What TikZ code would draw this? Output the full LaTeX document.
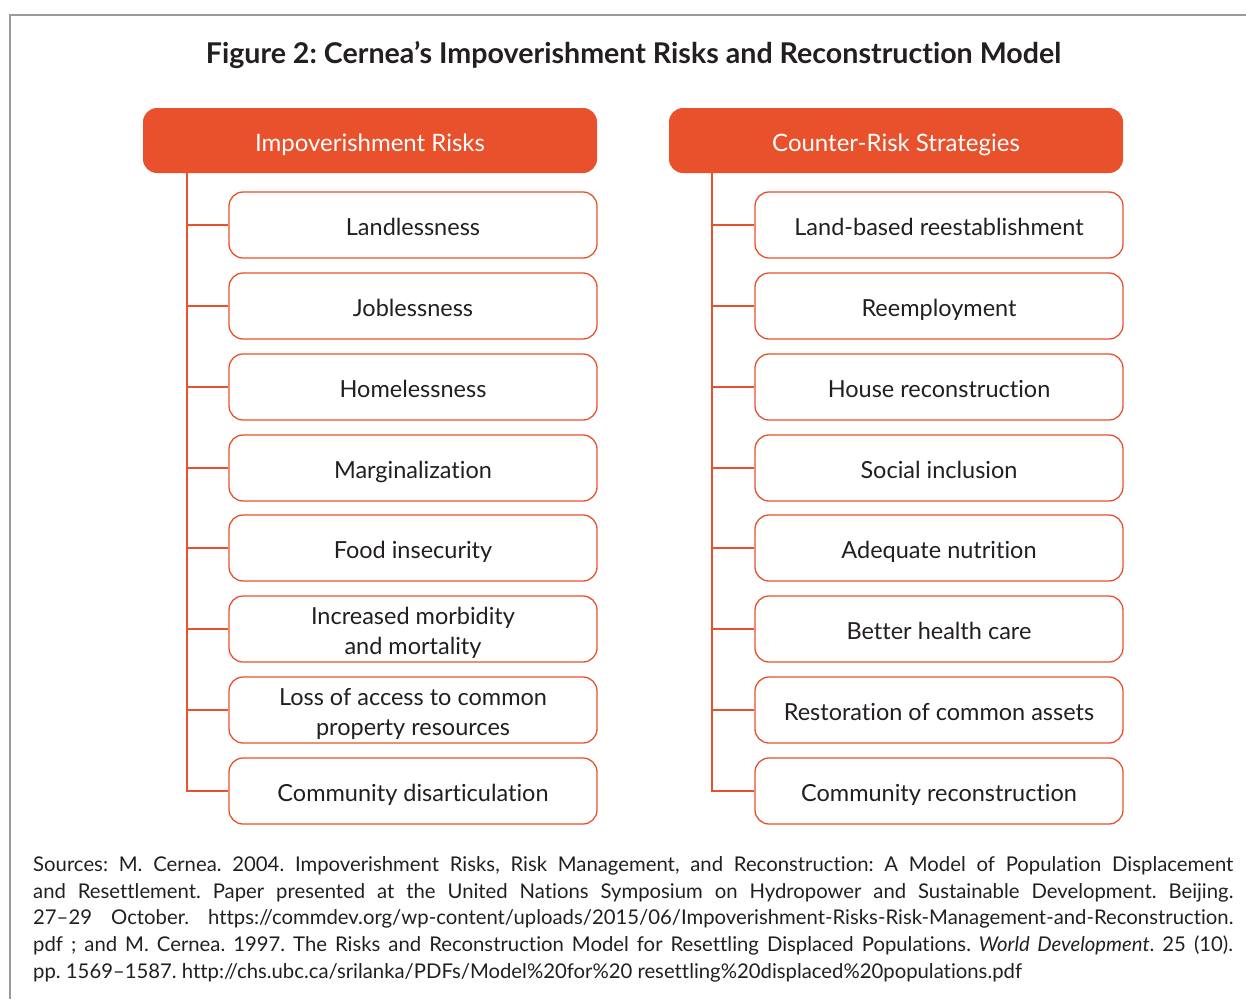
\documentclass[tikz,border=0pt]{standalone}
\usepackage{fontspec}
\setmainfont{Lato}[Ligatures=NoCommon]
\definecolor{org}{HTML}{E8512B}
\definecolor{txt}{HTML}{231F20}
\definecolor{frame}{HTML}{9A9A9A}
\frenchspacing
\begin{document}
\frenchspacing
\begin{tikzpicture}[x=1pt,y=-1pt,
  hdr/.style={fill=org, draw=none, rounded corners=14pt, minimum width=454pt, minimum height=65pt, inner sep=0pt, text=white, text height=21pt, text depth=0pt, font=\fontsize{24}{28}\selectfont},
  itembox/.style={draw=org, line width=1.3pt, fill=white, rounded corners=14pt, minimum width=368pt, minimum height=66pt, inner sep=0pt, text=txt, align=center, text height=20pt, text depth=0pt, font=\fontsize{23.5}{30}\selectfont},
  twoline/.style={text height=50pt, text depth=0pt},
  conn/.style={draw=org, line width=1.4pt},
  srcline/.style={anchor=base west, inner sep=0pt, text=txt, font=\fontsize{20.3}{27}\selectfont\frenchspacing}]
\useasboundingbox (0,0) rectangle (1246,999);
\draw[frame, line width=1.2pt] (1246,15) -- (10,15) -- (10,999);

\node[anchor=base, inner sep=0pt, text=txt, font=\bfseries\fontsize{28.6}{32}\selectfont] (title) at (633.5,63.3) {Figure 2: Cernea’s Impoverishment Risks and Reconstruction Model};

\node[hdr] (hL) at (370,140.5) {Impoverishment Risks};
\node[hdr] (hR) at (896,140.5) {Counter-Risk Strategies};

\coordinate (tL) at ([xshift=44pt]hL.south west);
\coordinate (tR) at ([xshift=43pt]hR.south west);

\node[itembox] (L1) at (413,225) {Landlessness};
\node[itembox] (L2) at (413,306) {Joblessness};
\node[itembox] (L3) at (413,387) {Homelessness};
\node[itembox] (L4) at (413,468) {Marginalization};
\node[itembox] (L5) at (413,548) {Food insecurity};
\node[itembox, twoline] (L6) at (413,629) {Increased morbidity\\and mortality};
\node[itembox, twoline] (L7) at (413,710) {Loss of access to common\\property resources};
\node[itembox] (L8) at (413,791) {Community disarticulation};

\node[itembox] (R1) at (939,225) {Land-based reestablishment};
\node[itembox] (R2) at (939,306) {Reemployment};
\node[itembox] (R3) at (939,387) {House reconstruction};
\node[itembox] (R4) at (939,468) {Social inclusion};
\node[itembox] (R5) at (939,548) {Adequate nutrition};
\node[itembox] (R6) at (939,629) {Better health care};
\node[itembox] (R7) at (939,710) {Restoration of common assets};
\node[itembox] (R8) at (939,791) {Community reconstruction};

\draw[conn] (tL) |- (L8.west);
\draw[conn] (tR) |- (R8.west);
\foreach \i in {1,...,7}{
  \draw[conn] (L\i.west) -- (L\i.west -| tL);
  \draw[conn] (R\i.west) -- (R\i.west -| tR);
}

\node[srcline] (s1) at (33,871) {\makebox[1200pt][s]{Sources: M. Cernea. 2004. Impoverishment Risks, Risk Management, and Reconstruction: A Model of Population Displacement}};
\node[srcline] (s2) at (33,898) {\makebox[1200pt][s]{and Resettlement. Paper presented at the United Nations Symposium on Hydropower and Sustainable Development. Beijing.}};
\node[srcline] (s3) at (33,924.5) {\makebox[1200pt][s]{27–29 October. https://commdev.org/wp-content/uploads/2015/06/Impoverishment-Risks-Risk-Management-and-Reconstruction.}};
\node[srcline] (s4) at (33,951) {\makebox[1200pt][s]{pdf ; and M. Cernea. 1997. The Risks and Reconstruction Model for Resettling Displaced Populations. \textit{World Development}. 25 (10).}};
\node[srcline] (s5) at (33,978) {pp. 1569–1587. http://chs.ubc.ca/srilanka/PDFs/Model\%20for\%20 resettling\%20displaced\%20populations.pdf};
\end{tikzpicture}
\end{document}
